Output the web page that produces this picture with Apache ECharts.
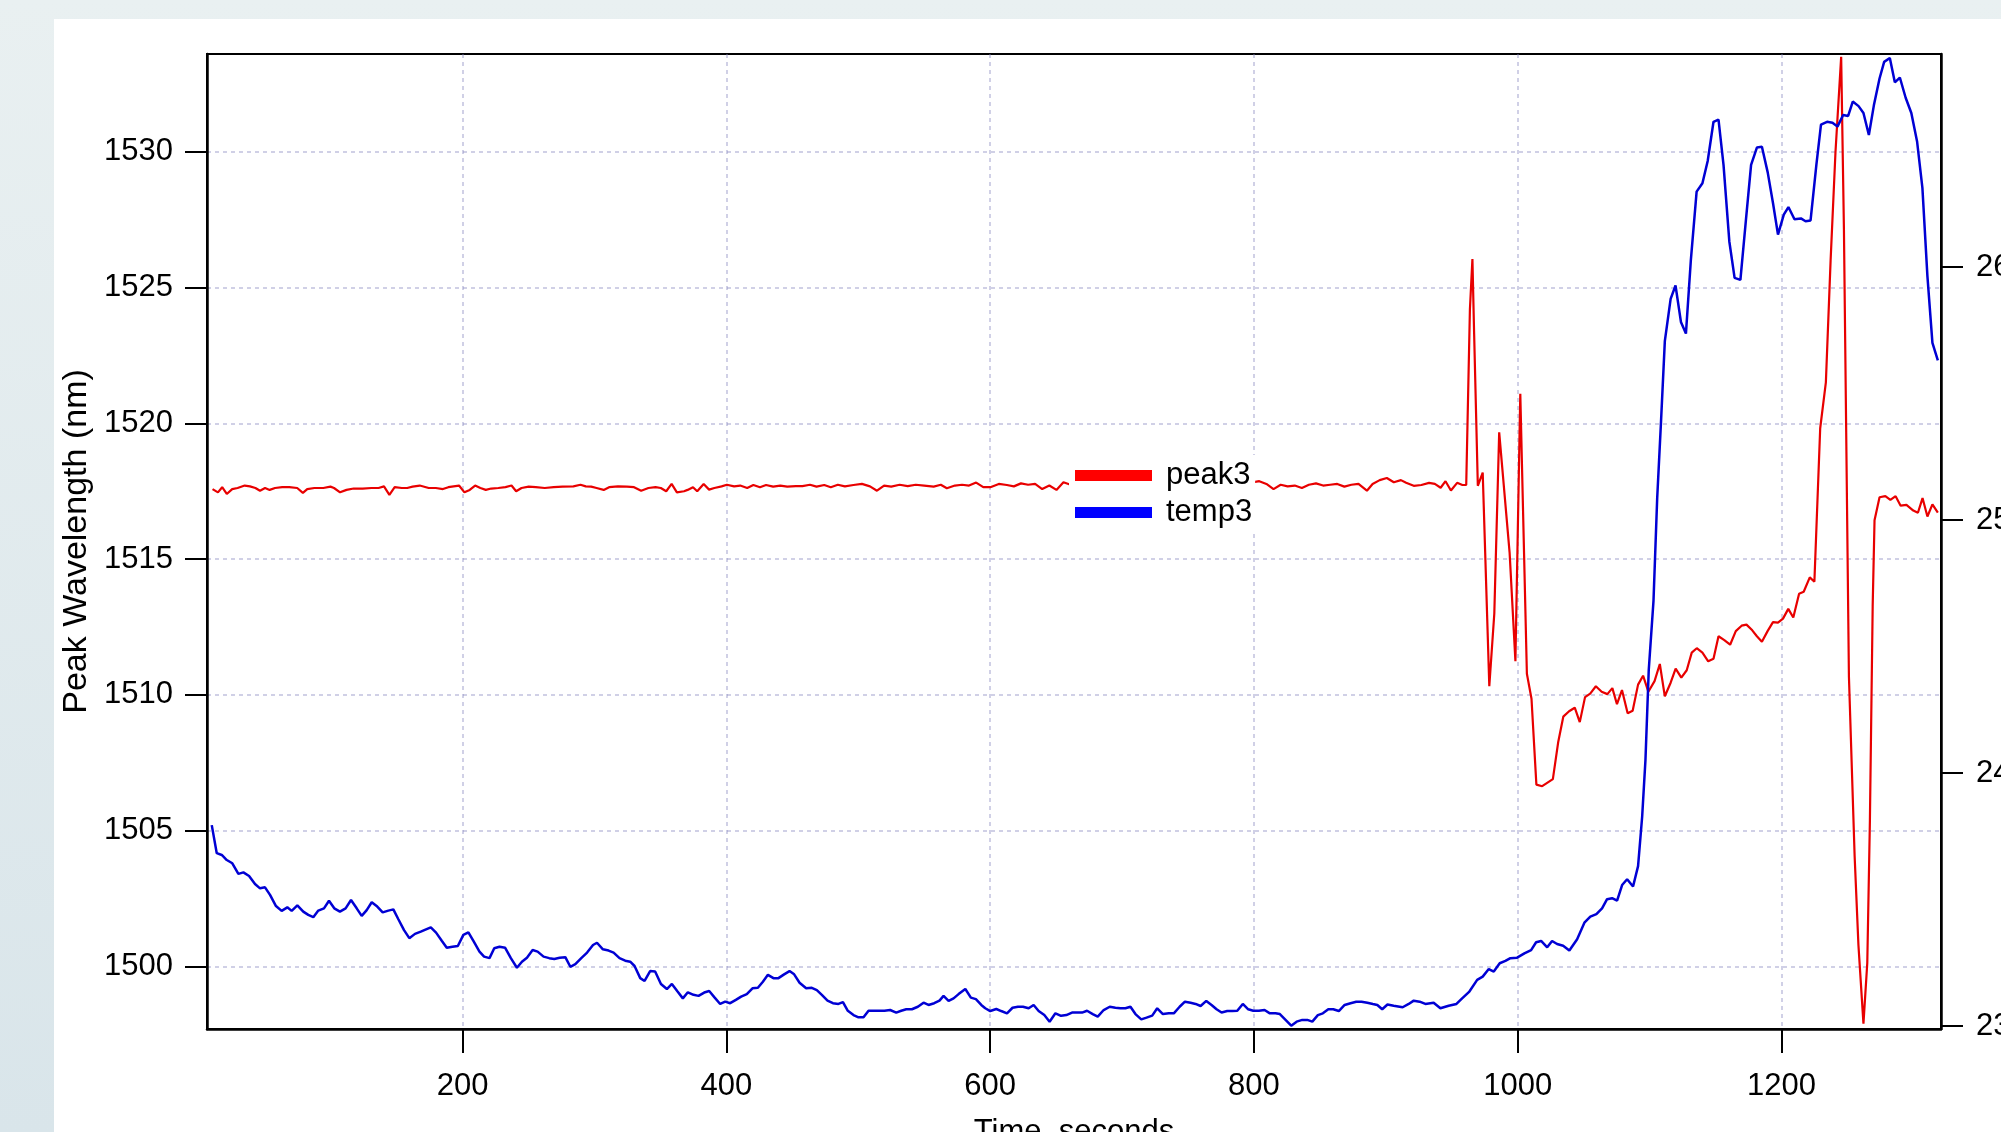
<!DOCTYPE html>
<html>
<head>
<meta charset="utf-8">
<script src="https://cdn.jsdelivr.net/npm/echarts@6/dist/echarts.min.js"></script>
<style>
html,body{margin:0;padding:0;background:#e4ecef;}
#chart{width:2001px;height:1132px;}
</style>
</head>
<body>
<div id="chart"></div>
<script>
// ---- data: [time (s), value] ----
const peak3 = [[10.4,1517.58],[14.5,1517.46],[17.7,1517.65],[21.2,1517.40],[25.3,1517.58],[29.4,1517.62],[34.8,1517.71],[38.8,1517.68],[42.9,1517.62],[46.4,1517.52],[50.2,1517.62],[53.7,1517.55],[57.8,1517.62],[63.2,1517.65],[68.6,1517.65],[74.6,1517.62],[78.9,1517.44],[82.2,1517.58],[87.6,1517.62],[94.4,1517.62],[99.8,1517.67],[102.5,1517.62],[107.1,1517.46],[112,1517.55],[117.4,1517.60],[124.2,1517.60],[130.9,1517.62],[136.3,1517.62],[140.4,1517.68],[144.5,1517.37],[148.5,1517.65],[153.9,1517.62],[158,1517.62],[162.1,1517.67],[167.5,1517.71],[174.3,1517.62],[179.7,1517.62],[185.1,1517.58],[189.2,1517.65],[193.2,1517.68],[197.3,1517.71],[201.4,1517.46],[205.4,1517.55],[209.5,1517.71],[213.5,1517.62],[217.6,1517.55],[221.7,1517.60],[227.1,1517.62],[232.5,1517.65],[237.1,1517.71],[240.6,1517.50],[244.7,1517.62],[250.1,1517.67],[255.5,1517.65],[262.3,1517.62],[269.1,1517.65],[275.8,1517.67],[284,1517.68],[289.4,1517.74],[293.4,1517.68],[297.5,1517.67],[301.6,1517.62],[307,1517.55],[311.1,1517.65],[317.8,1517.68],[324.6,1517.67],[330,1517.65],[335.4,1517.52],[340.9,1517.62],[346.3,1517.65],[350.3,1517.62],[354.4,1517.50],[358.5,1517.77],[362.5,1517.46],[367.9,1517.50],[370.6,1517.55],[374.7,1517.65],[377.9,1517.50],[382.8,1517.77],[386.9,1517.56],[390.9,1517.62],[396.4,1517.68],[400.4,1517.74],[405.9,1517.68],[410.5,1517.71],[415.8,1517.62],[420.5,1517.73],[425.5,1517.65],[430.1,1517.73],[435.5,1517.67],[440.9,1517.71],[446.2,1517.67],[452.7,1517.69],[457.7,1517.69],[463.4,1517.74],[468.4,1517.67],[474.2,1517.73],[479.2,1517.65],[484.5,1517.74],[489.9,1517.68],[496.4,1517.73],[502.8,1517.77],[508.9,1517.68],[514.2,1517.52],[519.6,1517.71],[525,1517.67],[531.4,1517.74],[537.5,1517.69],[543.6,1517.74],[550,1517.71],[557.2,1517.67],[562.6,1517.74],[567.2,1517.61],[573.3,1517.71],[578.7,1517.74],[584,1517.71],[589.4,1517.82],[594.8,1517.65],[600.2,1517.65],[606.6,1517.77],[612.7,1517.73],[618,1517.68],[623.4,1517.79],[628.8,1517.74],[634.1,1517.77],[639.5,1517.58],[644.9,1517.71],[650.3,1517.55],[655.6,1517.83],[661,1517.74],[668,1517.70],[676,1517.66],[684,1517.72],[692,1517.68],[700,1517.74],[708,1517.70],[716,1517.66],[724,1517.72],[732,1517.70],[740,1517.76],[748,1517.68],[756,1517.72],[764,1517.70],[772,1517.74],[780,1517.68],[788,1517.74],[794,1517.76],[798.8,1517.83],[804.1,1517.87],[809.5,1517.77],[814.9,1517.58],[820.3,1517.74],[825.6,1517.68],[831,1517.71],[836.4,1517.62],[841.7,1517.74],[847.1,1517.79],[852.5,1517.71],[857.8,1517.74],[863.2,1517.77],[868.6,1517.67],[873.9,1517.74],[879.3,1517.77],[885.7,1517.52],[890,1517.77],[895.4,1517.91],[900.8,1517.99],[906.1,1517.83],[911.5,1517.91],[915.4,1517.81],[921.2,1517.70],[927,1517.73],[932.8,1517.81],[937.2,1517.77],[941.6,1517.63],[945.3,1517.87],[949.4,1517.53],[954.1,1517.81],[958.1,1517.73],[961,1517.73],[963.8,1524.2],[965.7,1526.05],[967,1523.3],[969.8,1517.70],[973.5,1518.19],[978.5,1510.32],[982.3,1513.0],[986,1519.67],[993.9,1515.24],[998.3,1511.24],[1002,1521.09],[1007,1510.78],[1010.5,1509.86],[1014.2,1506.70],[1018.6,1506.64],[1026.7,1506.90],[1030.8,1508.28],[1034.6,1509.20],[1039,1509.40],[1043.3,1509.53],[1047.1,1509.00],[1051.1,1509.92],[1055,1510.05],[1059.3,1510.32],[1063.7,1510.12],[1068,1510.03],[1071.8,1510.25],[1075.3,1509.66],[1079.1,1510.18],[1083.4,1509.33],[1087.2,1509.42],[1091.3,1510.38],[1095.1,1510.71],[1099.1,1510.12],[1103.8,1510.51],[1107.8,1511.14],[1111.6,1509.95],[1116,1510.45],[1119.8,1510.97],[1124.1,1510.64],[1128.2,1510.91],[1132,1511.56],[1135.8,1511.72],[1140.1,1511.56],[1144.5,1511.24],[1148.5,1511.33],[1152.3,1512.16],[1156.7,1512.02],[1161.1,1511.85],[1165.4,1512.35],[1169.8,1512.55],[1173.5,1512.59],[1177.9,1512.38],[1181.4,1512.16],[1185.2,1511.96],[1189.5,1512.35],[1193.6,1512.68],[1197.4,1512.66],[1201.2,1512.81],[1205.2,1513.17],[1209,1512.85],[1213.4,1513.73],[1216.9,1513.80],[1221.5,1514.33],[1225,1514.17],[1229.4,1519.82],[1233.7,1521.51],[1237.3,1526.0],[1241,1530.0],[1245.3,1533.5],[1247.4,1527.15],[1251.2,1510.65],[1255.5,1504.08],[1258.4,1500.79],[1262.2,1497.9],[1265.1,1500.13],[1267.1,1505.39],[1269.2,1513.27],[1270.6,1516.43],[1274.4,1517.28],[1278.8,1517.32],[1282.6,1517.18],[1286.6,1517.32],[1290.4,1516.97],[1294.8,1517.00],[1300,1516.79],[1303.5,1516.71],[1307,1517.25],[1310.7,1516.57],[1314.5,1517.02],[1318.6,1516.71]];

const temp3 = [[9.8,23.794],[13.6,23.683],[17.4,23.676],[21.2,23.656],[25.4,23.643],[30,23.601],[33.8,23.607],[38.1,23.593],[42.6,23.561],[46.4,23.544],[50.2,23.548],[54,23.518],[58.5,23.474],[62.8,23.455],[67.1,23.469],[70.4,23.455],[74.7,23.477],[79.2,23.452],[83,23.439],[86.8,23.430],[90.6,23.456],[94.9,23.465],[98.7,23.495],[102.7,23.465],[107,23.452],[111.3,23.465],[115.4,23.498],[119.7,23.465],[123.5,23.435],[127.3,23.458],[131.1,23.489],[135.3,23.472],[139.4,23.449],[143.7,23.456],[147.5,23.461],[151.3,23.422],[155.6,23.379],[159.6,23.347],[163.9,23.364],[168.3,23.373],[172.3,23.382],[175.9,23.390],[179.9,23.369],[184.2,23.337],[188,23.309],[192.3,23.313],[196.4,23.316],[200.6,23.360],[204.4,23.370],[208.2,23.336],[212.8,23.294],[216.3,23.274],[220.4,23.268],[224,23.307],[228,23.313],[232.3,23.309],[236.6,23.268],[241.2,23.230],[245,23.254],[248.8,23.270],[253.1,23.300],[256.9,23.294],[261.4,23.274],[265.7,23.268],[269.5,23.265],[273.6,23.270],[277.9,23.272],[281.7,23.234],[285.5,23.244],[290,23.268],[294.4,23.290],[298.9,23.320],[301.9,23.329],[306.4,23.303],[310.7,23.298],[314.5,23.290],[319,23.268],[323.3,23.258],[327.1,23.254],[330.4,23.237],[334.7,23.189],[338,23.178],[342.2,23.217],[346,23.215],[350.4,23.166],[354.9,23.146],[358.7,23.166],[363,23.136],[367,23.109],[370.8,23.133],[375.1,23.123],[378.9,23.119],[383.2,23.132],[387,23.138],[391,23.113],[395.3,23.087],[399.1,23.096],[402.9,23.090],[407.2,23.103],[411.2,23.116],[415.5,23.126],[419.8,23.149],[423.9,23.151],[427.7,23.175],[431.5,23.202],[435.7,23.189],[439.5,23.189],[443.8,23.204],[447.9,23.217],[451.4,23.204],[455.5,23.171],[460.5,23.149],[464.8,23.151],[468.6,23.142],[472.4,23.123],[476.7,23.100],[480.8,23.090],[485,23.087],[488.4,23.094],[492.1,23.060],[496.4,23.043],[500.2,23.034],[504,23.034],[507.8,23.060],[512.1,23.060],[516.1,23.060],[519.9,23.060],[524.2,23.063],[528.8,23.053],[532.6,23.060],[536.4,23.066],[540.7,23.066],[545.2,23.076],[549.5,23.092],[553.3,23.083],[557.6,23.090],[561.6,23.100],[564.7,23.119],[568.5,23.099],[572.3,23.109],[576.1,23.126],[581.2,23.146],[585.4,23.112],[589.2,23.106],[593.3,23.083],[596.3,23.070],[600.1,23.059],[604.7,23.067],[608.4,23.059],[612.8,23.050],[617,23.072],[621.1,23.076],[624.9,23.076],[629.2,23.070],[633,23.083],[636.8,23.059],[641.1,23.043],[645.1,23.017],[649.5,23.050],[653.8,23.040],[657.8,23.043],[662.1,23.053],[666.4,23.053],[669.7,23.053],[673.5,23.060],[677.8,23.047],[681.6,23.037],[686.1,23.063],[690.7,23.076],[695,23.072],[698.8,23.070],[702.6,23.070],[706.4,23.076],[710.2,23.047],[714.6,23.026],[718.6,23.033],[722.9,23.041],[726.7,23.070],[731,23.047],[735.5,23.050],[739.3,23.050],[743.7,23.076],[747.7,23.096],[752,23.092],[755.8,23.087],[759.6,23.079],[763.9,23.099],[767.9,23.083],[771.7,23.066],[775.5,23.053],[779.8,23.059],[783.6,23.059],[787.4,23.060],[791.6,23.087],[795.7,23.066],[799.5,23.060],[803.8,23.060],[808.1,23.063],[812.1,23.050],[816.4,23.050],[819.7,23.047],[824,23.024],[828.3,23.001],[832.4,23.017],[836.7,23.024],[840.5,23.024],[844.3,23.017],[848.5,23.043],[852.3,23.050],[856.4,23.066],[860.2,23.066],[864.4,23.059],[868.8,23.083],[873.3,23.090],[877.6,23.096],[881.6,23.096],[886,23.092],[890.2,23.087],[893.6,23.083],[897.3,23.066],[901.3,23.085],[906,23.080],[912.8,23.074],[917.4,23.087],[921.2,23.100],[925.7,23.096],[930,23.087],[936.3,23.092],[941.4,23.070],[947.7,23.080],[953.6,23.087],[957.9,23.109],[963.4,23.136],[969.3,23.182],[973.5,23.195],[978.1,23.225],[981.9,23.215],[986.4,23.248],[990.7,23.257],[994.5,23.268],[999.6,23.270],[1005.1,23.287],[1010.2,23.300],[1014,23.331],[1017.8,23.336],[1022.4,23.311],[1026.1,23.336],[1029.9,23.324],[1034.5,23.317],[1039.2,23.298],[1045.1,23.343],[1050.6,23.408],[1055.1,23.432],[1059.7,23.442],[1064,23.465],[1067.8,23.501],[1071.6,23.505],[1075.4,23.495],[1079.2,23.557],[1083,23.580],[1087.5,23.551],[1091.3,23.632],[1094.4,23.827],[1096.9,24.051],[1099.4,24.407],[1103,24.680],[1105.8,25.086],[1108.7,25.389],[1111.6,25.707],[1116,25.874],[1119.7,25.927],[1123.8,25.783],[1127.6,25.737],[1131.3,26.025],[1135.7,26.298],[1140.1,26.331],[1144.1,26.419],[1148.5,26.574],[1152.3,26.583],[1156.1,26.404],[1160.5,26.101],[1164.5,25.957],[1168.9,25.949],[1173.2,26.192],[1177,26.404],[1181.4,26.472],[1185.2,26.475],[1189.6,26.374],[1193.6,26.253],[1197.4,26.128],[1201.8,26.207],[1205.3,26.237],[1209.9,26.189],[1214.8,26.192],[1218.3,26.181],[1222.1,26.184],[1226.5,26.404],[1230,26.563],[1234.6,26.574],[1238.7,26.570],[1242.5,26.555],[1246.8,26.601],[1250.6,26.597],[1254.1,26.654],[1258.5,26.636],[1262.2,26.609],[1266.3,26.522],[1270.1,26.639],[1274.4,26.745],[1277.9,26.811],[1282.2,26.826],[1286,26.730],[1289.8,26.749],[1294.2,26.669],[1298.5,26.609],[1302.9,26.495],[1306.9,26.313],[1310.7,25.964],[1314.5,25.700],[1318.6,25.631]];

const xTicks = [200, 400, 600, 800, 1000, 1200];
const leftTicks = [1500, 1505, 1510, 1515, 1520, 1525, 1530];
const rightTicks = [23, 24, 25, 26];
const seriesNames = ['peak3', 'temp3'];
const xTitle = 'Time, seconds';
const leftTitle = 'Peak Wavelength (nm)';

// ---- chart ----
const FONT = "'Liberation Sans', Arial, sans-serif";
const gridLine = { show: true, lineStyle: { color: 'rgba(130,130,190,0.5)', width: 1.5, type: [4, 4] } };
const blackLine = { show: true, lineStyle: { color: '#000', width: 2.5 } };
const tick = (vals, len) => ({ show: true, inside: false, length: len, customValues: vals, lineStyle: { color: '#000', width: 2 } });
const label = (vals, margin) => ({ customValues: vals, margin: margin, fontSize: 31, color: '#000', fontFamily: FONT, formatter: v => String(v) });

const chart = echarts.init(document.getElementById('chart'), null, { renderer: 'canvas' });
chart.setOption({
  animation: false,
  backgroundColor: 'transparent',
  graphic: [
    { type: 'rect', z: -100, silent: true, shape: { x: 0, y: 0, width: 2001, height: 1132 },
      style: { fill: new echarts.graphic.LinearGradient(0, 0, 0, 1, [{ offset: 0, color: '#e9f0f1' }, { offset: 1, color: '#d9e5ea' }]) } },
    { type: 'rect', z: -99, silent: true, shape: { x: 54, y: 19, width: 1947, height: 1113 }, style: { fill: '#ffffff' } }
  ],
  grid: { left: 207, right: 60, top: 54, bottom: 103, containLabel: false, outerBoundsMode: 'none',
          show: true, borderColor: '#000', borderWidth: 2, backgroundColor: 'transparent' },
  legend: {
    orient: 'vertical', left: 1069, top: 455, padding: [5, 3, 5, 6], itemGap: 6,
    itemWidth: 77, itemHeight: 11, backgroundColor: '#ffffff',
    data: [{ name: seriesNames[0], icon: 'rect' }, { name: seriesNames[1], icon: 'rect' }],
    textStyle: { fontSize: 31, color: '#000', fontFamily: FONT, padding: [0, 0, 0, 9] }
  },
  xAxis: {
    type: 'value', min: 6.2, max: 1321,
    axisLine: blackLine, axisTick: tick(xTicks, 24), axisLabel: label(xTicks, 42),
    splitLine: gridLine,
    name: xTitle, nameLocation: 'middle', nameGap: 88,
    nameTextStyle: { fontSize: 31, color: '#000', fontFamily: FONT }
  },
  yAxis: [
    {
      type: 'value', position: 'left', min: 1497.7, max: 1533.6,
      axisLine: blackLine, axisTick: tick(leftTicks, 22), axisLabel: label(leftTicks, 34),
      splitLine: gridLine,
      name: leftTitle, nameLocation: 'middle', nameGap: 111,
      nameTextStyle: { fontSize: 34, color: '#000', fontFamily: FONT }
    },
    {
      type: 'value', position: 'right', min: 22.988, max: 26.842,
      axisLine: blackLine, axisTick: tick(rightTicks, 22), axisLabel: label(rightTicks, 35),
      splitLine: { show: false }
    }
  ],
  series: [
    { name: seriesNames[0], type: 'line', yAxisIndex: 0, data: peak3, symbol: 'none',
      lineStyle: { color: '#e80000', width: 2.2 }, itemStyle: { color: '#ff0000' } },
    { name: seriesNames[1], type: 'line', yAxisIndex: 1, data: temp3, symbol: 'none',
      lineStyle: { color: '#0000d4', width: 2.5 }, itemStyle: { color: '#0000ff' } }
  ]
});
</script>
</body>
</html>
